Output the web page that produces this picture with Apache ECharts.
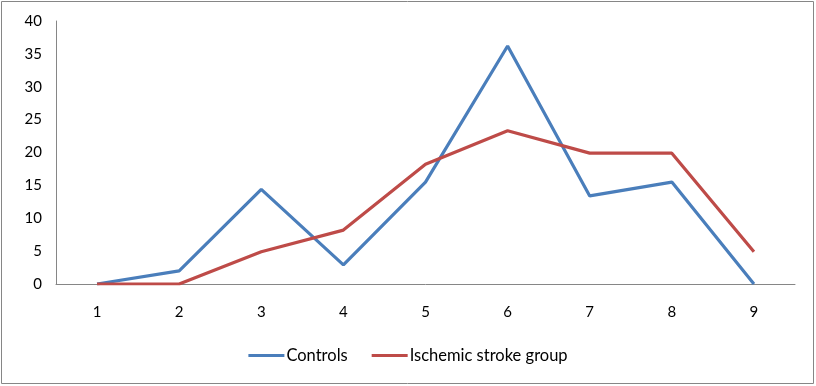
<!DOCTYPE html>
<html><head><meta charset="utf-8">
<script src="https://cdn.jsdelivr.net/npm/echarts@6/dist/echarts.min.js"></script>
<style>html,body{margin:0;padding:0;background:#fff}#c{width:816px;height:386px}</style>
</head><body><div id="c"></div>
<script>
const categories = ['1','2','3','4','5','6','7','8','9'];
const controls = [0, 2.0, 14.4, 2.9, 15.5, 36.2, 13.4, 15.5, 0];
const ischemic = [0, 0, 4.9, 8.2, 18.2, 23.3, 19.9, 19.9, 4.9];
const yTicks = [0, 40, 5];

const font = 'Lato, "Liberation Sans", sans-serif';
const chart = echarts.init(document.getElementById('c'), null, {renderer: 'canvas'});
chart.setOption({
  animation: false,
  backgroundColor: '#fff',
  textStyle: {fontFamily: font},
  graphic: [{type: 'rect', shape: {x: 1.5, y: 1.5, width: 812, height: 382}, style: {fill: 'none', stroke: '#868686', lineWidth: 1}, silent: true}],
  grid: {left: 56, right: 21, top: 21, bottom: 102, containLabel: false},
  legend: {
    bottom: 17, left: 'center', itemWidth: 36, itemHeight: 3, itemGap: 24,
    icon: 'rect',
    textStyle: {fontFamily: font, fontSize: 16.5, color: '#000', padding: [0, 0, 0, -3]},
    data: ['Controls', 'Ischemic stroke group']
  },
  xAxis: {
    type: 'category', data: categories, boundaryGap: true,
    axisLine: {lineStyle: {color: '#868686', width: 1}},
    axisTick: {show: false},
    axisLabel: {color: '#000', fontSize: 15, margin: 21, fontFamily: font}
  },
  yAxis: {
    type: 'value', min: yTicks[0], max: yTicks[1], interval: yTicks[2],
    axisLine: {show: true, lineStyle: {color: '#868686', width: 1}},
    axisTick: {show: false},
    splitLine: {show: false},
    axisLabel: {color: '#000', fontSize: 15, margin: 14, fontFamily: font}
  },
  series: [
    {name: 'Controls', type: 'line', data: controls, symbol: 'none', lineStyle: {color: '#4a7ebb', width: 3.2}, itemStyle: {color: '#4a7ebb'}},
    {name: 'Ischemic stroke group', type: 'line', data: ischemic, symbol: 'none', lineStyle: {color: '#be4b48', width: 3.2}, itemStyle: {color: '#be4b48'}}
  ]
});
</script></body></html>
